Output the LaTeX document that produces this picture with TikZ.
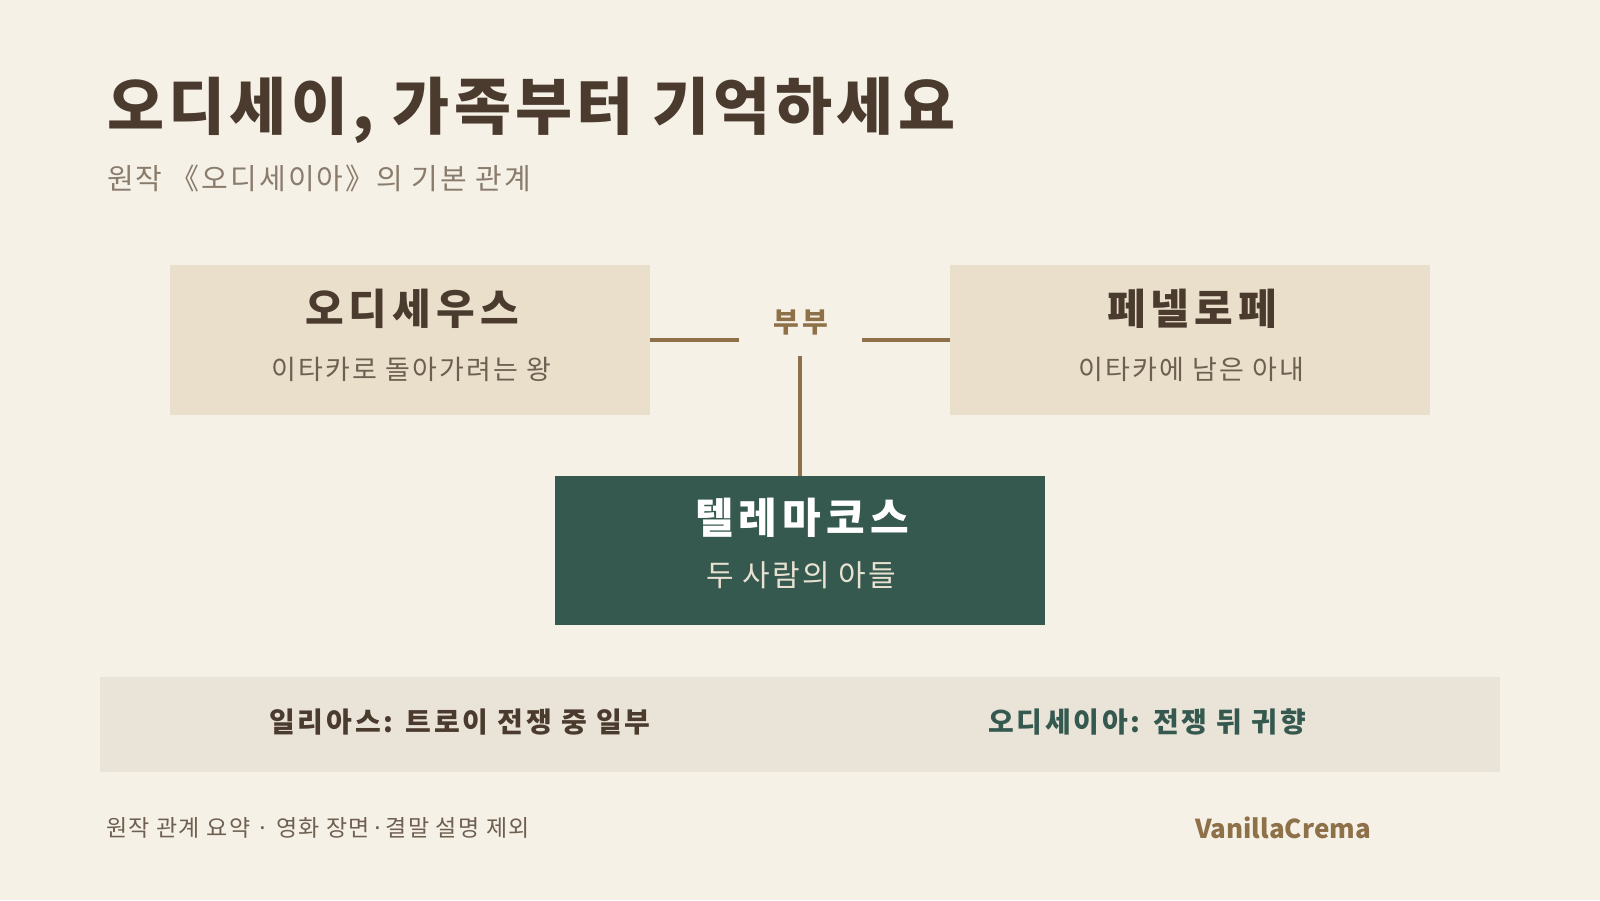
\documentclass[tikz,border=0pt]{standalone}
\usepackage{fontspec}
\setmainfont{Noto Sans CJK KR}
\usetikzlibrary{positioning}
\definecolor{paper}{HTML}{F6F1E7}
\definecolor{card}{HTML}{E9DFCB}
\definecolor{band}{HTML}{EAE3D8}
\definecolor{pine}{HTML}{35594F}
\definecolor{ink}{HTML}{4A3B2E}
\definecolor{soft}{HTML}{6E5F50}
\definecolor{grey}{HTML}{8A7C6C}
\definecolor{bronze}{HTML}{8E7049}
\definecolor{cream}{HTML}{E9E2D2}
\newcommand{\sized}[3]{\fontsize{#1}{#2}\selectfont\addfontfeatures{LetterSpace=#3}}

\begin{document}
\begin{tikzpicture}[x=1pt,y=-1pt,
    every node/.style={inner sep=0pt,outer sep=0pt},
    box/.style={minimum width=480pt,minimum height=150pt},
    castname/.style={font=\bfseries\sized{42}{48}{12},text=ink},
    castrole/.style={font=\sized{27}{32}{8},text=soft},
    eranote/.style={font=\bfseries\sized{28}{32}{10}},
    tie/.style={bronze,line width=4pt}]
    \fill[paper] (0,0) rectangle (1600,900);
    \useasboundingbox (0,0) rectangle (1600,900);

    \path
    (107,110) node[anchor=west,font=\bfseries\sized{62}{70}{7},text=ink] (title) {오디세이, 가족부터 기억하세요}
    (107,178) node[anchor=west,font=\sized{29}{34}{7},text=grey] (sub) {원작 《오디세이아》의 기본 관계}
    ;

    \path
    (410,340) node[box,fill=card] (ody) {}
    (1190,340) node[box,fill=card] (pen) {}
    (800,550) node[box,minimum width=490pt,minimum height=149pt,fill=pine] (tel) {}
    ;
    \node[castname] (odyN) at (412,309) {오디세우스};
    \node[castrole] (odyR) at (411,369) {이타카로 돌아가려는 왕};
    \node[castname] (penN) at (1192,309) {페넬로페};
    \node[castrole] (penR) at (1191,369) {이타카에 남은 아내};
    \node[castname,text=white] (telN) at (802,518) {텔레마코스};
    \node[castrole,font=\sized{30}{34}{7},text=cream] (telR) at (801,575) {두 사람의 아들};

    \node[font=\bfseries\sized{28}{32}{9},text=bronze] (wed) at (801,322) {부부};
    \coordinate (wedL) at (739,340);
    \coordinate (wedR) at (862,340);
    \coordinate (wedB) at (800,356);
    \draw[tie] (ody.east) -- (wedL);
    \draw[tie] (pen.west) -- (wedR);
    \draw[tie] (wedB) -- (tel.north);

    \path
    (800,724) node[minimum width=1400pt,minimum height=95pt,fill=band] (era) {}
    (460,722) node[eranote,text=ink] (iliad) {일리아스: 트로이 전쟁 중 일부}
    (1147,722) node[eranote,text=pine] (odyssey) {오디세이아: 전쟁 뒤 귀향}
    ;

    \path
    (106,828) node[anchor=west,font=\sized{23}{28}{6},text=soft] (note) {원작 관계 요약 · 영화 장면·결말 설명 제외}
    (1283,828) node[font=\bfseries\sized{26}{32}{0},text=bronze] (brand) {VanillaCrema}
    ;
  \end{tikzpicture}
\end{document}
